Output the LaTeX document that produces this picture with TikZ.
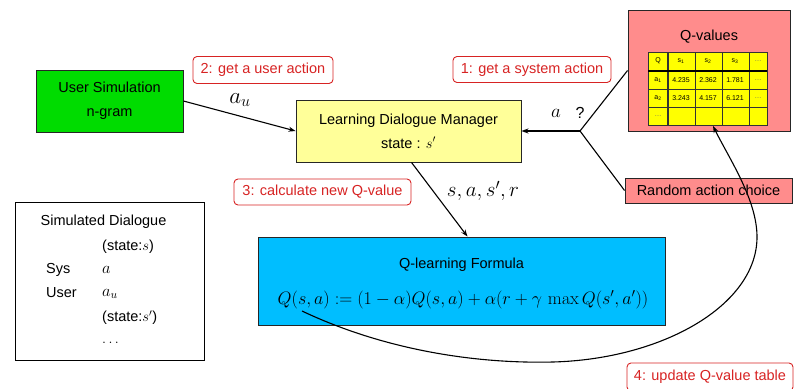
\RequirePackage{fix-cm}
\documentclass[tikz,border=0pt]{standalone}
\usepackage[no-math]{fontspec}
\setmainfont{Liberation Sans}
\usetikzlibrary{arrows.meta,calc}
\definecolor{qpink}{RGB}{255,140,140}
\definecolor{ugreen}{RGB}{0,220,0}
\definecolor{lyellow}{RGB}{255,255,153}
\definecolor{tyellow}{RGB}{255,255,0}
\definecolor{qblue}{RGB}{0,190,255}
\definecolor{lred}{RGB}{215,35,35}
\tikzset{
  box/.style={draw=black!85, line width=0.9pt, inner sep=0pt, align=center,
    font=\fontsize{14.5}{24}\selectfont},
  steplabel/.style={draw=lred, text=lred, rounded corners=4pt, line width=0.9pt,
    inner sep=0pt, font=\fontsize{14.5}{17}\selectfont},
  conn/.style={line width=1.1pt, black},
  arr/.style={conn, -{Stealth[length=7pt,width=5pt]}},
  txt/.style={inner sep=0pt, font=\fontsize{14.5}{17}\selectfont},
  mtxt/.style={inner sep=0pt, font=\fontsize{16.5}{18}\selectfont},
  cell/.style={inner sep=0pt, font=\fontsize{7}{8}\selectfont},
  mlabel/.style={inner sep=0pt, font=\fontsize{20}{22}\selectfont}
}
\begin{document}
\begin{tikzpicture}[x=1pt,y=-1pt]
\useasboundingbox (0,0) rectangle (794,388);
% Q-values box
\node[box, fill=qpink, minimum width=162pt, minimum height=121pt] (qbox) at (709,70.5) {};
\node[txt] (qtitle) at (709,37) {Q-values};
% table
\fill[tyellow] (648,52) rectangle (767,125);
\draw[black!80, line width=0.6pt] (648,52) rectangle (767,125);
\draw[black!80, line width=0.6pt] (648,89) -- (767,89) (648,107) -- (767,107);
\draw[black!80, line width=0.6pt] (695,52) -- (695,125) (722,52) -- (722,125) (749,52) -- (749,125);
\draw[black!80, line width=1.2pt] (668,52) -- (668,125);
\draw[black, line width=2.2pt] (648,71) -- (767,71);
\node[cell] (cq) at (658,61) {Q};
\node[cell] (cs1) at (681,61) {s\textsubscript{1}};
\node[cell] (cs2) at (708,61) {s\textsubscript{2}};
\node[cell] (cs3) at (735,61) {s\textsubscript{3}};
\node[cell, text=black!60] (cd0) at (758,61) {\dots};
\node[cell] (ca1) at (658,80) {a\textsubscript{1}};
\node[cell] (v11) at (681,80) {4.235};
\node[cell] (v12) at (708,80) {2.362};
\node[cell] (v13) at (735,80) {1.781};
\node[cell, text=black!60] (cd1) at (758,80) {\dots};
\node[cell] (ca2) at (658,98) {a\textsubscript{2}};
\node[cell] (v21) at (681,98) {3.243};
\node[cell] (v22) at (708,98) {4.157};
\node[cell] (v23) at (735,98) {6.121};
\node[cell, text=black!60] (cd2) at (758,98) {\dots};
\node[cell, text=black!60] (cd3) at (658,116) {\dots};
% step labels
\node[steplabel, minimum width=158pt, minimum height=26pt] (l1) at (532,69.5) {1: get a system action};
\node[steplabel, minimum width=140pt, minimum height=27pt] (l2) at (263,70) {2: get a user action};
\node[steplabel, minimum width=177pt, minimum height=26pt] (l3) at (322.5,192) {3: calculate new Q-value};
\node[steplabel, minimum width=166pt, minimum height=28pt] (l4) at (710,377) {4: update Q-value table};
% main boxes
\node[box, fill=ugreen, minimum width=147pt, minimum height=62pt] (usim) at (109.5,101) {User Simulation\\n-gram};
\node[box, fill=lyellow, minimum width=225pt, minimum height=62pt] (ldm) at (408.5,131) {Learning Dialogue Manager\\state : $s'$};
\node[box, fill=qpink, minimum width=167pt, minimum height=25pt] (rand) at (708.5,190.5) {Random action choice};
\node[box, fill=qblue, minimum width=407pt, minimum height=88pt] (qlf) at (461.5,281) {};
\node[txt] (qlft) at (461.5,265) {Q-learning Formula};
\node[txt, font=\fontsize{18}{20}\selectfont] (qlff) at (463,300) {$Q(s,a) := (1-\alpha)Q(s,a) + \alpha(r+\gamma\,\max Q(s',a'))$};
% simulated dialogue
\node[draw=black, line width=0.9pt, minimum width=189pt, minimum height=158pt, inner sep=0pt] (simd) at (109.5,281) {};
\node[txt] (sdt) at (103.5,222) {Simulated Dialogue};
\node[txt, anchor=west] (sd1) at (102,247) {(state:$s$)};
\node[txt, anchor=west] (sd2a) at (46,270) {Sys};
\node[mtxt, anchor=west] (sd2b) at (102,270) {$a$};
\node[txt, anchor=west] (sd3a) at (46,293) {User};
\node[mtxt, anchor=west] (sd3b) at (102,294) {$a_u$};
\node[txt, anchor=west] (sd4) at (102,318) {(state:$s'$)};
\node[txt, anchor=west] (sd5) at (102,343) {$\dots$};
% connectors
\draw[arr] (usim.east) -- (ldm.west);
\node[mlabel, font=\fontsize{23}{25}\selectfont] (au) at (240,100) {$a_u$};
\coordinate (J) at (580,131);
\draw[conn] (qbox.west) -- (J) -- (rand.west);
\draw[arr] (J) -- (ldm.east);
\node[mlabel, font=\fontsize{19}{21}\selectfont] (aq) at (556,113) {$a$};
\node[txt, font=\fontsize{16}{18}\selectfont] (qm) at (580,113) {?};
\draw[arr] ($(ldm.south)+(3,0)$) -- ($(qlf.north)+(6,0)$);
\node[mlabel, font=\fontsize{21}{23}\selectfont] (sasr) at (483,191) {$s,a,s',r$};
\coordinate (fs) at (302,311);
\coordinate (tb) at (713,126);
\draw[arr] (fs) .. controls (380,348) and (470,364) .. (553,362)
  .. controls (663,359) and (757,305) .. (757,237)
  .. controls (757,200) and (730,160) .. (tb);
\end{tikzpicture}
\end{document}
